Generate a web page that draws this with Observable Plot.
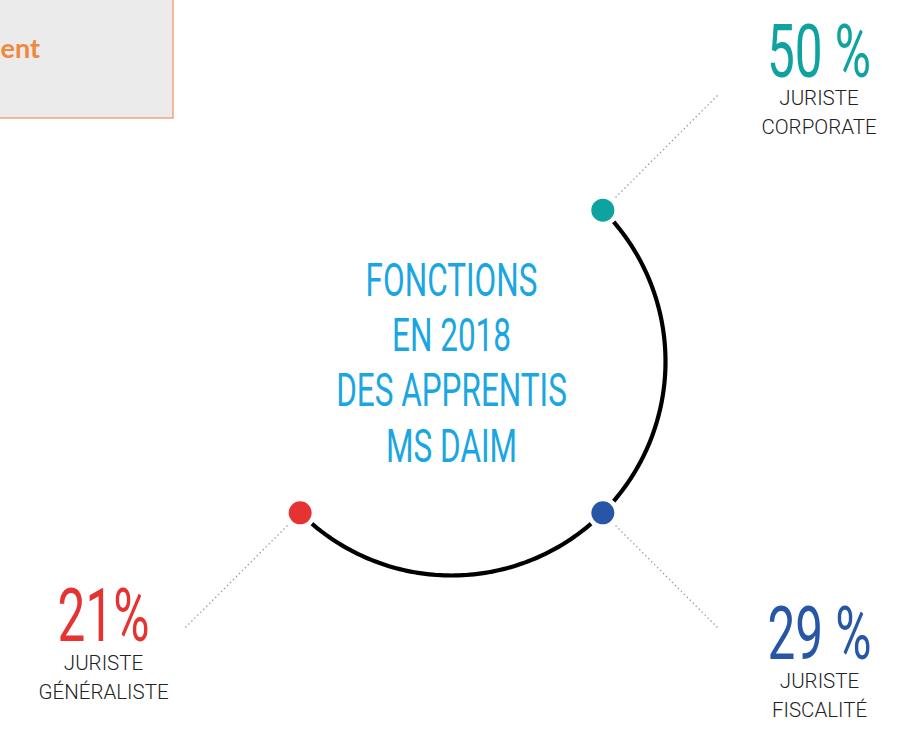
<!DOCTYPE html>
<html>
<head>
<meta charset="utf-8">
<script src="https://cdn.jsdelivr.net/npm/d3@7"></script>
<script src="https://cdn.jsdelivr.net/npm/@observablehq/plot@0.6"></script>
<style>
  html, body { margin: 0; padding: 0; background: #fff; }
  #chart svg { display: block; }
</style>
</head>
<body>
<div id="chart"></div>
<script>
// ---- data ----
const categories = ["JURISTE\nCORPORATE", "JURISTE\nFISCALITÉ", "JURISTE\nGÉNÉRALISTE"];
const values = [50, 29, 21];
const valueLabels = ["50 %", "29 %", "21%"];
const title = "FONCTIONS\nEN 2018\nDES APPRENTIS\nMS DAIM";
const boxText = "ent";

// ---- styles / layout ----
const palette = ["#0fa3a0", "#2656a5", "#e43331"];
const W = 906, H = 732;
const CX = 451, CY = 361, R = 214;
const px = (x) => x - CX;          // pixel -> data x
const py = (y) => CY - y;          // pixel -> data y
// dot angles (degrees, math orientation): one quarter apart, clockwise from upper-right
const angleOf = (i) => 45 - i * 90;
const labelLayout = [
  {x: 818.5, numY: 76, subY: 133},
  {x: 819, numY: 658, subY: 716},
  {x: 103, numY: 640, subY: 698}
];

const rows = categories.map((c, i) => {
  const a = angleOf(i) * Math.PI / 180;
  return {
    cat: c, value: values[i], label: valueLabels[i], color: palette[i],
    dx: R * Math.cos(a), dy: R * Math.sin(a),
    l1x: 232 * Math.cos(a), l1y: 232 * Math.sin(a),
    l2x: 378 * Math.cos(a), l2y: 378 * Math.sin(a),
    tx: px(labelLayout[i].x), numY: py(labelLayout[i].numY), subY: py(labelLayout[i].subY)
  };
});

// arc geometry from first to last dot (clockwise)
const a0 = angleOf(0), a1 = angleOf(categories.length - 1);
const arc = d3.range(0, 181).map(k => {
  const a = (a0 + (a1 - a0) * k / 180) * Math.PI / 180;
  return {x: R * Math.cos(a), y: R * Math.sin(a)};
});

const chart = Plot.plot({
  width: W, height: H,
  marginTop: 0, marginRight: 0, marginBottom: 0, marginLeft: 0,
  x: {domain: [px(0), px(W)], axis: null},
  y: {domain: [py(H), py(0)], axis: null},
  style: {background: "#fff", fontFamily: "Roboto, sans-serif"},
  marks: [
    // clipped box top-left
    Plot.rect([{}], {x1: px(-5), x2: px(173), y1: py(118), y2: py(-5),
      fill: "#ebebeb", stroke: "#f2a27d", strokeWidth: 1.5}),
    Plot.text([boxText], {x: px(0), y: py(57), text: d => d, textAnchor: "start",
      lineAnchor: "bottom", fill: "#f0883f", fontSize: 27, fontWeight: 700,
      fontFamily: "Lato, sans-serif"}),
    // leader lines
    Plot.link(rows, {x1: "l1x", y1: "l1y", x2: "l2x", y2: "l2y",
      stroke: "#9a9a9a", strokeWidth: 1.3, strokeDasharray: "1.4,2.8"}),
    // arc
    Plot.line(arc, {x: "x", y: "y", stroke: "#000", strokeWidth: 4.2, curve: "linear"}),
    // dots with white halo
    Plot.dot(rows, {x: "dx", y: "dy", r: 16, fill: "#fff"}),
    Plot.dot(rows, {x: "dx", y: "dy", r: 11.5, fill: "color"}),
    // center title
    Plot.text([title], {x: 0, y: py(461), text: d => d, lineAnchor: "bottom",
      lineHeight: 1.2, fontSize: 46, fontWeight: 400, fill: "#1aa6e2",
      textAnchor: "middle"}),
    // percentages
    Plot.text(rows, {x: "tx", y: "numY", text: "label", fill: "color", fontSize: 75,
      fontWeight: 400, lineAnchor: "bottom", textAnchor: "middle"}),
    // category labels
    Plot.text(rows, {x: "tx", y: "subY", text: "cat", fill: "#222", fontSize: 20.5,
      fontWeight: 300, lineHeight: 1.37, lineAnchor: "bottom", textAnchor: "middle"})
  ]
});

// condense the display type (narrow typeface look)
const condensed = new Map([["46", 0.685], ["75", 0.66]]);
chart.querySelectorAll("text").forEach(t => {
  let g = t.parentNode, fs = null;
  while (g && g !== chart.parentNode) {
    if (g.getAttribute && g.getAttribute("font-size")) { fs = g.getAttribute("font-size"); break; }
    g = g.parentNode;
  }
  if (!fs && t.getAttribute("font-size")) fs = t.getAttribute("font-size");
  const s = fs ? condensed.get(String(parseFloat(fs))) : undefined;
  if (!s) return;
  const tr = t.getAttribute("transform");
  if (tr) t.setAttribute("transform", tr + ` scale(${s},1)`);
  else {
    const x = t.getAttribute("x") || 0, y = t.getAttribute("y") || 0;
    t.removeAttribute("x"); t.removeAttribute("y");
    t.setAttribute("transform", `translate(${x},${y}) scale(${s},1)`);
  }
});

document.getElementById("chart").appendChild(chart);
</script>
</body>
</html>
